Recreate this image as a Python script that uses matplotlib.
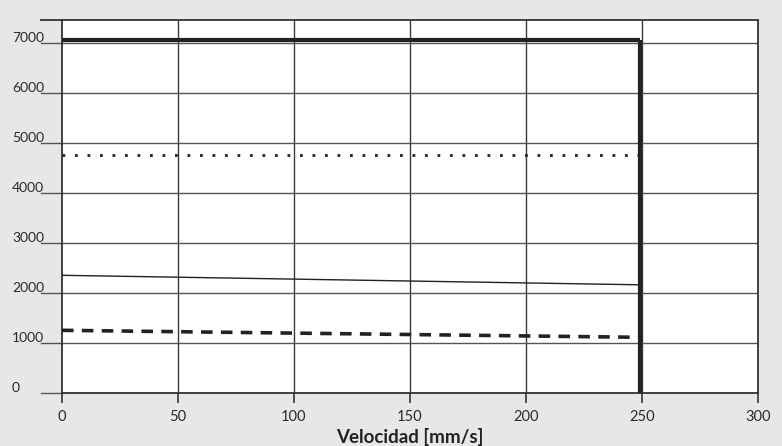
import matplotlib
matplotlib.use("Agg")
import matplotlib.pyplot as plt
import matplotlib.transforms as mtransforms

# Velocity axis (mm/s) and load curves
x_ticks = [0, 50, 100, 150, 200, 250, 300]
y_ticks = [0, 1000, 2000, 3000, 4000, 5000, 6000, 7000]

v_max = 249                      # maximum velocity
v_points = [0, v_max]

limit_thick = [7060, 7060]       # thick solid limit
limit_dotted = [4760, 4760]      # dotted limit
limit_thin = [2360, 2170]        # thin solid limit
limit_dashed = [1260, 1120]      # dashed limit

bg = "#e6e7e8"
plt.rcParams["font.family"] = ["Lato", "DejaVu Sans"]

fig = plt.figure(figsize=(7.82, 4.46), dpi=100, facecolor=bg)
W, H = 782, 446
ax = fig.add_axes([62 / W, (H - 393.3) / H, (758 - 62) / W, (393.3 - 20) / H])
ax.set_facecolor("white")
ax.set_xlim(0, 300)
ax.set_ylim(0, 7466)

# grid
for xv in x_ticks[1:-1]:
    ax.axvline(xv, color="#3a3a3a", lw=1.0, zorder=1)
for yv in y_ticks[1:]:
    ax.axhline(yv, color="#555555", lw=1.0, zorder=1)

for s in ax.spines.values():
    s.set_color("#333333")
    s.set_linewidth(1.3)

ax.set_xticks(x_ticks)
ax.set_yticks([])
ax.tick_params(axis="x", direction="out", length=7, width=1.2, color="#333333",
               labelsize=10.5, labelcolor="#2a2a2a", pad=5)

# y labels: left-aligned column, each resting on a short leader line
trans = mtransforms.blended_transform_factory(fig.transFigure, ax.transData)
for yv in y_ticks:
    ax.plot([41 / W, 62 / W], [yv, yv], transform=trans, color="#555555",
            lw=1.0, clip_on=False)
    ax.text(12 / W, yv + 20, str(yv), transform=trans, ha="left", va="baseline",
            fontsize=10, color="#2a2a2a")
# top leader
ax.plot([41 / W, 62 / W], [7466, 7466], transform=trans, color="#333333",
        lw=1.3, clip_on=False)

# curves
ax.plot(v_points, limit_thick, color="#222222", lw=3.0, zorder=3,
        solid_capstyle="butt")
ax.plot([v_max, v_max], [limit_thick[1], 0], color="#222222", lw=3.0, zorder=3,
        solid_capstyle="butt")
ax.plot(v_points, limit_dotted, color="#222222", lw=2.0, ls=(0, (1, 3.5)), zorder=3)
ax.plot(v_points, limit_thin, color="#222222", lw=1.0, zorder=3)
ax.plot(v_points, limit_dashed, color="#222222", lw=2.6, ls=(0, (3.2, 2.3)), zorder=3)

ax.set_xlabel("Velocidad [mm/s]", fontsize=13.5, fontweight="bold", color="#222222",
              labelpad=3)

fig.savefig("out.png", dpi=100, facecolor=bg)
